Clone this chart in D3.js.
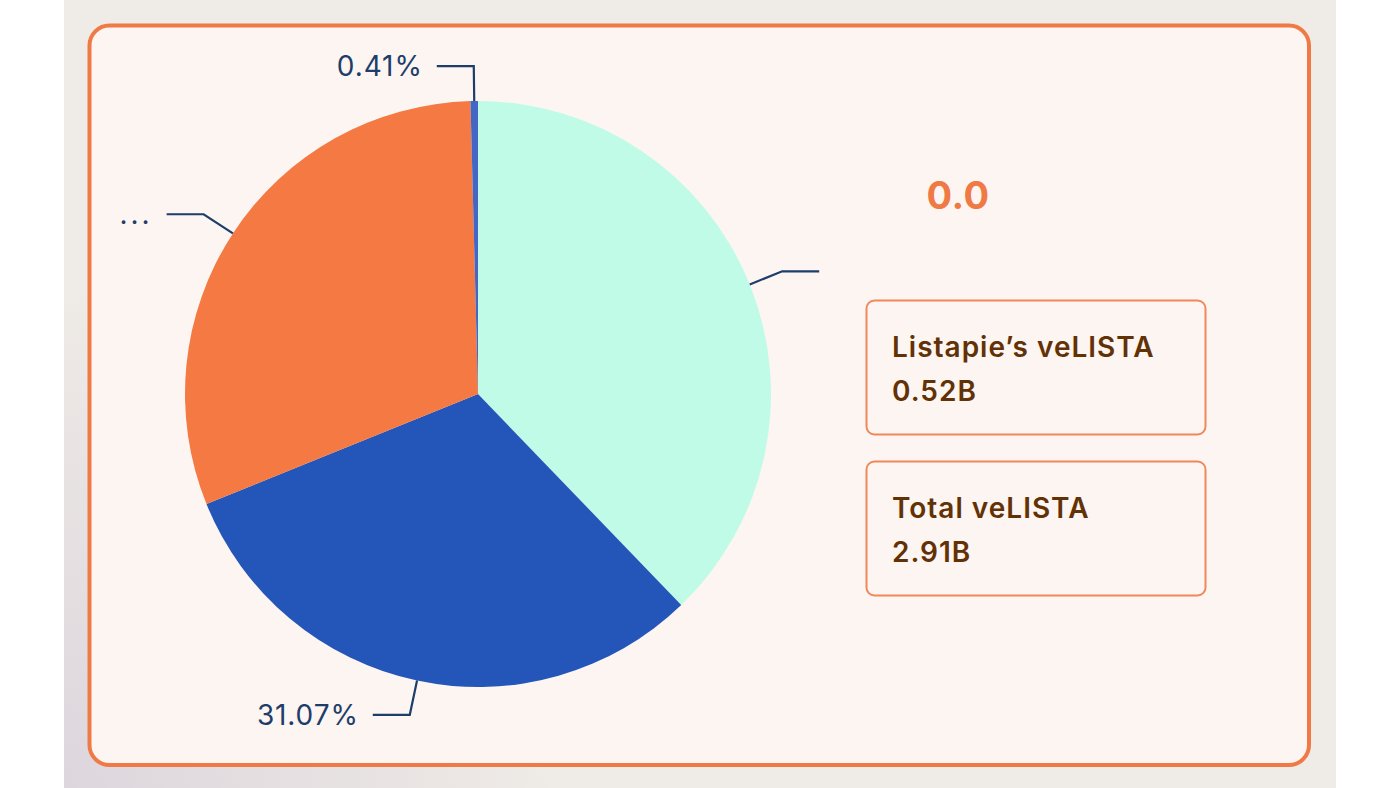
<!DOCTYPE html>
<html><head><meta charset="utf-8">
<script src="https://cdn.jsdelivr.net/npm/d3@7"></script>
<style>
html,body{margin:0;padding:0;background:#fff;}
svg{display:block;}
</style></head>
<body>
<svg id="c" width="1400" height="788"></svg>
<script>
const categories = ["Others", "Holders B", "Holders C", "Small"];
const values = [37.80, 31.07, 30.72, 0.41];
const labels = ["", "31.07%", "...", "0.41%"];
const colors = ["#c0fbe8", "#2356b8", "#f47943", "#4466c4"];
const title = "0.0";
const cardTitles = ["Listapie\u2019s veLISTA", "Total veLISTA"];
const cardValues = ["0.52B", "2.91B"];

const svg = d3.select("#c");
const defs = svg.append("defs");
const rg = defs.append("radialGradient").attr("id","bgr").attr("gradientUnits","userSpaceOnUse")
  .attr("cx",40).attr("cy",800).attr("r",520);
rg.append("stop").attr("offset","0%").attr("stop-color","#dcd5dd");
rg.append("stop").attr("offset","100%").attr("stop-color","#efebe6");

svg.append("rect").attr("x",64).attr("y",0).attr("width",1272).attr("height",788).attr("fill","url(#bgr)");
svg.append("rect").attr("x",89.5).attr("y",25.5).attr("width",1219.5).attr("height",739.5)
  .attr("rx",20).attr("fill","#fdf5f1").attr("stroke","#f07a45").attr("stroke-width",4);

const cx = 478, cy = 394, R = 293;
const g = svg.append("g").attr("transform",`translate(${cx},${cy})`);
const data = categories.map((c,i)=>({name:c, value:values[i], label:labels[i], color:colors[i]}));
const pie = d3.pie().sort(null).value(d=>d.value).startAngle(0).endAngle(2*Math.PI);
const arcs = pie(data);
const arc = d3.arc().innerRadius(0).outerRadius(R);
g.selectAll("path.slice").data(arcs).join("path").attr("class","slice")
  .attr("d",arc).attr("fill",d=>d.data.color);

const lineColor = "#1d3d6b";
const len1 = 35, len2 = 37, gap = 14;
arcs.forEach(a=>{
  const m = (a.startAngle + a.endAngle)/2;
  const sx = Math.sin(m), sy = -Math.cos(m);
  const p0 = [R*sx, R*sy];
  const p1 = [(R+len1)*sx, (R+len1)*sy];
  const dir = sx >= 0 ? 1 : -1;
  const p2 = [p1[0] + dir*len2, p1[1]];
  g.append("polyline").attr("points",[p0,p1,p2].map(p=>p.join(",")).join(" "))
    .attr("fill","none").attr("stroke",lineColor).attr("stroke-width",2.2);
  g.append("text").attr("x",p2[0] + dir*gap).attr("y",p2[1]).attr("dy","0.36em")
    .attr("text-anchor", dir>0 ? "start" : "end")
    .attr("font-family","Inter, 'Noto Sans', sans-serif").attr("font-size",28)
    .attr("letter-spacing", a.data.label === "..." ? 3 : 0.9)
    .attr("fill",lineColor).text(a.data.label);
});

svg.append("text").attr("x",958).attr("y",209).attr("text-anchor","middle")
  .attr("font-family","Inter, 'Noto Sans', sans-serif").attr("font-weight",700)
  .attr("font-size",38).attr("letter-spacing",0.5).attr("fill","#f07a45").text(title);

const boxY = [300, 461];
cardTitles.forEach((t,i)=>{
  const y = boxY[i];
  svg.append("rect").attr("x",866.5).attr("y",y+0.5).attr("width",339).attr("height",134)
    .attr("rx",8).attr("fill","#fdf5f1").attr("stroke","#f0895a").attr("stroke-width",2);
  svg.append("text").attr("x",892).attr("y",y+57).attr("font-family","Inter, 'Noto Sans', sans-serif")
    .attr("font-weight",600).attr("font-size",28).attr("letter-spacing",1).attr("fill","#623106").text(t);
  svg.append("text").attr("x",892).attr("y",y+101).attr("font-family","Inter, 'Noto Sans', sans-serif")
    .attr("font-weight",600).attr("font-size",28).attr("letter-spacing",1).attr("fill","#623106").text(cardValues[i]);
});
</script>
</body></html>
